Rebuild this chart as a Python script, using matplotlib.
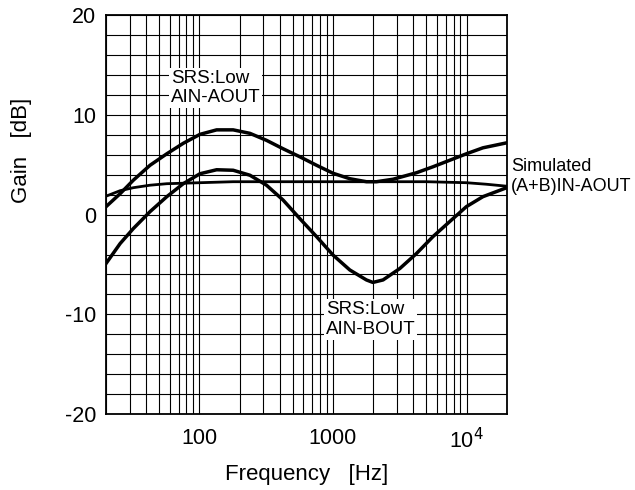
import matplotlib.pyplot as plt
from matplotlib.ticker import LogLocator, FixedLocator, NullFormatter

plt.rcParams['font.family'] = ['Liberation Sans', 'DejaVu Sans']
plt.rcParams['axes.unicode_minus'] = False

# SRS:Low AIN-AOUT
freq_a = [20, 25.5, 32, 42.7, 57, 75.7, 101, 134.6, 179, 239, 318, 424, 565, 753,
          1000, 1337, 1780, 2117, 2820, 4220, 5612, 7480, 9975, 13270, 20000]
gain_a = [0.8, 2.1, 3.45, 4.95, 6.1, 7.15, 8.05, 8.5, 8.5, 8.15, 7.45, 6.6, 5.8, 4.95,
          4.15, 3.6, 3.3, 3.3, 3.55, 4.2, 4.8, 5.45, 6.1, 6.7, 7.2]

# SRS:Low AIN-BOUT
freq_b = [20, 25.5, 32, 42.7, 57, 75.7, 101, 134.6, 179, 239, 318, 424, 565, 753,
          1000, 1337, 1780, 1990, 2372, 3170, 4220, 5612, 7480, 9975, 13270, 20000]
gain_b = [-4.9, -2.9, -1.4, 0.3, 1.8, 3.1, 4.1, 4.5, 4.45, 3.95, 2.95, 1.45, -0.4, -2.2,
          -4.05, -5.55, -6.55, -6.8, -6.55, -5.4, -3.9, -2.2, -0.7, 0.8, 1.8, 2.7]

# Simulated (A+B)IN-AOUT
freq_s = [20, 25.5, 32, 42.7, 57, 101, 179, 500, 1000, 2000, 5000, 9975, 14000, 20000]
gain_s = [1.85, 2.4, 2.7, 2.95, 3.1, 3.2, 3.3, 3.3, 3.3, 3.3, 3.3, 3.2, 3.05, 2.85]

y_ticks = [-20, -10, 0, 10, 20]
x_ticks = [100, 1000, 10000]
x_labels = ['100', '1000', r'10$^4$']

fig = plt.figure(figsize=(6.35, 4.9), dpi=100)
ax = fig.add_axes([0.167, 0.155, 0.631, 0.814])

ax.semilogx(freq_s, gain_s, color='black', lw=2.0, zorder=3)
ax.semilogx(freq_a, gain_a, color='black', lw=2.5, zorder=3)
ax.semilogx(freq_b, gain_b, color='black', lw=2.5, zorder=3)

ax.set_xlim(20, 20000)
ax.set_ylim(-20, 20)

ax.xaxis.set_major_locator(FixedLocator(x_ticks))
ax.set_xticklabels(x_labels)
ax.xaxis.set_minor_locator(LogLocator(base=10, subs=range(2, 10)))
ax.xaxis.set_minor_formatter(NullFormatter())
ax.set_yticks(y_ticks)
ax.yaxis.set_minor_locator(FixedLocator(range(-20, 21, 2)))

ax.grid(True, which='both', color='black', lw=0.8)
ax.tick_params(which='both', direction='in', length=0, labelsize=15.5)
ax.tick_params(axis='x', pad=10)
ax.tick_params(axis='y', pad=7)
for s in ax.spines.values():
    s.set_linewidth(1.3)

ax.set_xlabel('Frequency   [Hz]', fontsize=16, labelpad=8)
ax.set_ylabel('Gain   [dB]', fontsize=16)
ax.yaxis.set_label_coords(-0.185, 0.66)

box = dict(facecolor='white', edgecolor='none', pad=1.5)
ax.text(61, 12.7, 'SRS:Low\nAIN-AOUT', fontsize=13.5, ha='left', va='center',
        bbox=box, linespacing=1.2, zorder=4)
ax.text(884, -10.5, 'SRS:Low\nAIN-BOUT', fontsize=13.5, ha='left', va='center',
        bbox=box, linespacing=1.2, zorder=4)
ax.text(21600, 3.8, 'Simulated\n(A+B)IN-AOUT', fontsize=13, ha='left', va='center',
        linespacing=1.2, clip_on=False)

fig.savefig('out.png', dpi=100)
